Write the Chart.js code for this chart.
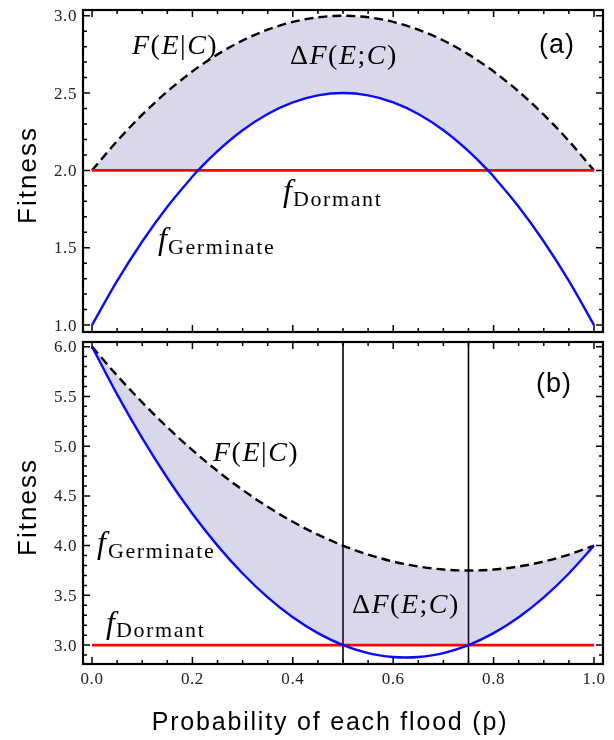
<!DOCTYPE html>
<html>
<head>
<meta charset="utf-8">
<script src="https://cdn.jsdelivr.net/npm/chart.js@4.4.1/dist/chart.umd.min.js"></script>
<style>
    html, body { margin: 0; padding: 0; background: #fff; }
    #wrap { position: relative; width: 614px; height: 740px; }
    canvas { position: absolute; left: 0; top: 0; }
</style>
</head>
<body>
<div id="wrap">
    <canvas id="panel-a" width="614" height="740"></canvas>
    <canvas id="panel-b" width="614" height="740"></canvas>
</div>
<script>
// ---- Panel (a) values ----
const probA = [0, 0.05, 0.1, 0.15, 0.2, 0.211, 0.25, 0.3, 0.35, 0.4, 0.45, 0.5,
    0.55, 0.6, 0.65, 0.7, 0.75, 0.789, 0.8, 0.85, 0.9, 0.95, 1];
const germinateA = [1, 1.285, 1.54, 1.765, 1.96, 2.0, 2.125, 2.26, 2.365, 2.44, 2.485, 2.5,
    2.485, 2.44, 2.365, 2.26, 2.125, 2.0, 1.96, 1.765, 1.54, 1.285, 1];
const dormantA = [2, 2, 2, 2, 2, 2, 2, 2, 2, 2, 2, 2,
    2, 2, 2, 2, 2, 2, 2, 2, 2, 2, 2];
const conditionalA = [2, 2.19, 2.36, 2.51, 2.64, 2.666, 2.75, 2.84, 2.91, 2.96, 2.99, 3.0,
    2.99, 2.96, 2.91, 2.84, 2.75, 2.666, 2.64, 2.51, 2.36, 2.19, 2];

// ---- Panel (b) values ----
const probB = [0, 0.05, 0.1, 0.15, 0.2, 0.25, 0.3, 0.35, 0.4, 0.45, 0.5,
    0.55, 0.6, 0.625, 0.65, 0.7, 0.75, 0.8, 0.85, 0.9, 0.95, 1];
const germinateB = [6, 5.52, 5.08, 4.68, 4.32, 4.0, 3.72, 3.48, 3.28, 3.12, 3.0,
    2.92, 2.88, 2.875, 2.88, 2.92, 3.0, 3.12, 3.28, 3.48, 3.72, 4.0];
const dormantB = [3, 3, 3, 3, 3, 3, 3, 3, 3, 3, 3,
    3, 3, 3, 3, 3, 3, 3, 3, 3, 3, 3];
const conditionalB = [6, 5.71, 5.44, 5.19, 4.96, 4.75, 4.56, 4.39, 4.24, 4.11, 4.0,
    3.91, 3.84, 3.8125, 3.79, 3.76, 3.75, 3.76, 3.79, 3.84, 3.91, 4.0];
const guideLinesB = [0.5, 0.75];

// ---- Ticks ----
const xTicks = [0, 0.2, 0.4, 0.6, 0.8, 1.0];
const xTickLabels = ['0.0', '0.2', '0.4', '0.6', '0.8', '1.0'];
const yTicksA = [1.0, 1.5, 2.0, 2.5, 3.0];
const yTickLabelsA = ['1.0', '1.5', '2.0', '2.5', '3.0'];
const yTicksB = [3.0, 3.5, 4.0, 4.5, 5.0, 5.5, 6.0];
const yTickLabelsB = ['3.0', '3.5', '4.0', '4.5', '5.0', '5.5', '6.0'];

const BLUE = '#0a0aff';
const RED = '#ff0000';
const SHADE = 'rgba(60, 60, 150, 0.2)';
const SERIF = '"Liberation Serif", "DejaVu Serif", serif';
const SANS = '"Liberation Sans", Arial, sans-serif';

function pts(xs, ys) {
    return xs.map((x, i) => ({ x: x, y: ys[i] }));
}

// Builds the four datasets of a panel: germinate, dormant, conditional (shaded) and
// the lower edge of the shading (the larger of germinate and dormant)
function panelDatasets(xs, germ, dorm, cond) {
    const lower = germ.map((g, i) => Math.max(g, dorm[i]));
    return [
        { data: pts(xs, germ), borderColor: BLUE, borderWidth: 2.4 },
        { data: pts(xs, dorm), borderColor: RED, borderWidth: 2.8 },
        { data: pts(xs, cond), borderColor: '#000', borderWidth: 2.4, borderDash: [9, 5],
          fill: { target: 3 }, backgroundColor: SHADE },
        { data: pts(xs, lower), borderColor: 'rgba(0,0,0,0)', borderWidth: 0 }
    ];
}

// Draws a math-like label piece by piece: [text, font]
function drawMath(ctx, x, y, pieces, spacing) {
    ctx.letterSpacing = spacing + 'px';
    let cx = x;
    pieces.forEach(([t, font]) => {
        ctx.font = font;
        ctx.fillText(t, cx, y);
        cx += ctx.measureText(t).width;
    });
    ctx.letterSpacing = '0px';
}

function drawSubscripted(ctx, x, y, sub, subX, subY) {
    ctx.font = 'italic 32px ' + SERIF;
    ctx.fillText('f', x, y);
    ctx.letterSpacing = '1.6px';
    ctx.font = '22px ' + SERIF;
    ctx.fillText(sub, subX, subY);
    ctx.letterSpacing = '0px';
}

const IT = 'italic 28px ' + SERIF;
const RM = '28px ' + SERIF;
const condLabel = [['F', IT], ['(', RM], ['E', IT], ['|', RM], ['C', IT], [')', RM]];
const deltaLabel = [['\u0394', RM], ['F', IT], ['(', RM], ['E', IT], [';', RM], ['C', IT], [')', RM]];

// Frame, inward ticks, tick labels and the text of each panel
function framePlugin(cfg) {
    return {
        id: 'frame',
        beforeDraw(chart) {
            // vertical guide lines sit under the shading
            const { ctx, chartArea: a, scales: { x } } = chart;
            ctx.save();
            ctx.strokeStyle = '#000';
            ctx.lineWidth = 1.6;
            cfg.guides.forEach(p => {
                const px = x.getPixelForValue(p);
                ctx.beginPath();
                ctx.moveTo(px, a.top);
                ctx.lineTo(px, a.bottom);
                ctx.stroke();
            });
            ctx.restore();
        },
        afterDraw(chart) {
            const { ctx, chartArea: a, scales: { x, y } } = chart;
            ctx.save();
            ctx.strokeStyle = '#000';
            ctx.lineWidth = 2.2;
            ctx.strokeRect(a.left, a.top, a.right - a.left, a.bottom - a.top);

            ctx.lineWidth = 1.5;
            ctx.beginPath();
            // x ticks every 0.05, long ones every 0.2
            for (let k = 0; k <= 20; k++) {
                const px = x.getPixelForValue(k * 0.05);
                const len = k % 4 === 0 ? 7 : 4;
                ctx.moveTo(px, a.bottom); ctx.lineTo(px, a.bottom - len);
                ctx.moveTo(px, a.top); ctx.lineTo(px, a.top + len);
            }
            // y ticks every 0.1, long ones every 0.5
            for (let v = Math.ceil(y.min * 10); v <= Math.floor(y.max * 10); v++) {
                const py = y.getPixelForValue(v / 10);
                const len = v % 5 === 0 ? 7 : 4;
                ctx.moveTo(a.left, py); ctx.lineTo(a.left + len, py);
                ctx.moveTo(a.right, py); ctx.lineTo(a.right - len, py);
            }
            ctx.stroke();

            ctx.fillStyle = '#222';
            ctx.letterSpacing = '0.6px';
            ctx.font = '17px ' + SERIF;
            ctx.textAlign = 'right';
            ctx.textBaseline = 'middle';
            cfg.yTicks.forEach((v, i) => {
                ctx.fillText(cfg.yLabels[i], a.left - 6, y.getPixelForValue(v) + 1);
            });
            if (cfg.xLabels) {
                ctx.textAlign = 'center';
                ctx.textBaseline = 'alphabetic';
                xTicks.forEach((v, i) => {
                    ctx.fillText(xTickLabels[i], x.getPixelForValue(v), 684);
                });
            }
            ctx.letterSpacing = '0px';

            // y title
            ctx.fillStyle = '#000';
            ctx.save();
            ctx.translate(36, (a.top + a.bottom) / 2 + 4);
            ctx.rotate(-Math.PI / 2);
            ctx.textAlign = 'center';
            ctx.textBaseline = 'alphabetic';
            ctx.letterSpacing = '2px';
            ctx.font = '26px ' + SANS;
            ctx.fillText('Fitness', 0, 0);
            ctx.restore();

            ctx.textAlign = 'left';
            ctx.textBaseline = 'alphabetic';
            cfg.text(ctx);
            ctx.restore();
        }
    };
}

function makePanel(id, xs, germ, dorm, cond, yMin, yMax, padding, cfg) {
    return new Chart(document.getElementById(id), {
        type: 'line',
        data: { datasets: panelDatasets(xs, germ, dorm, cond) },
        options: {
            responsive: false,
            animation: false,
            layout: { padding: padding },
            elements: {
                point: { radius: 0 },
                line: { cubicInterpolationMode: 'monotone', borderCapStyle: 'butt' }
            },
            scales: {
                x: { type: 'linear', min: -0.018, max: 1.018, display: false },
                y: { type: 'linear', min: yMin, max: yMax, display: false }
            },
            plugins: {
                legend: { display: false },
                tooltip: { enabled: false },
                filler: { drawTime: 'beforeDatasetsDraw' }
            }
        },
        plugins: [framePlugin(cfg)]
    });
}

// Panel (a)
makePanel('panel-a', probA, germinateA, dormantA, conditionalA, 0.955, 3.037,
    { left: 83, right: 11, top: 10, bottom: 408 },
    {
        guides: [],
        yTicks: yTicksA, yLabels: yTickLabelsA, xLabels: false,
        text(ctx) {
            drawMath(ctx, 132, 54, condLabel, 1.5);
            drawMath(ctx, 290, 64, deltaLabel, 1.5);
            drawSubscripted(ctx, 283, 201, 'Dormant', 293, 206);
            drawSubscripted(ctx, 158, 249, 'Germinate', 168, 254);
            ctx.font = '27px ' + SANS;
            ctx.letterSpacing = '1px';
            ctx.fillText('(a)', 539, 53);
            ctx.letterSpacing = '0px';
        }
    });

// Panel (b)
makePanel('panel-b', probB, germinateB, dormantB, conditionalB, 2.81, 6.047,
    { left: 83, right: 11, top: 342, bottom: 76 },
    {
        guides: guideLinesB,
        yTicks: yTicksB, yLabels: yTickLabelsB, xLabels: true,
        text(ctx) {
            drawMath(ctx, 213, 461, condLabel, 1.5);
            drawMath(ctx, 352, 613, deltaLabel, 1.5);
            drawSubscripted(ctx, 97, 553, 'Germinate', 108, 558);
            drawSubscripted(ctx, 106, 633, 'Dormant', 116, 637);
            ctx.font = '27px ' + SANS;
            ctx.letterSpacing = '1px';
            ctx.fillText('(b)', 536, 392);
            // x title
            ctx.letterSpacing = '1.8px';
            ctx.font = '25px ' + SANS;
            ctx.textAlign = 'center';
            ctx.fillText('Probability of each flood (p)', 330, 730);
            ctx.letterSpacing = '0px';
        }
    });
</script>
</body>
</html>
